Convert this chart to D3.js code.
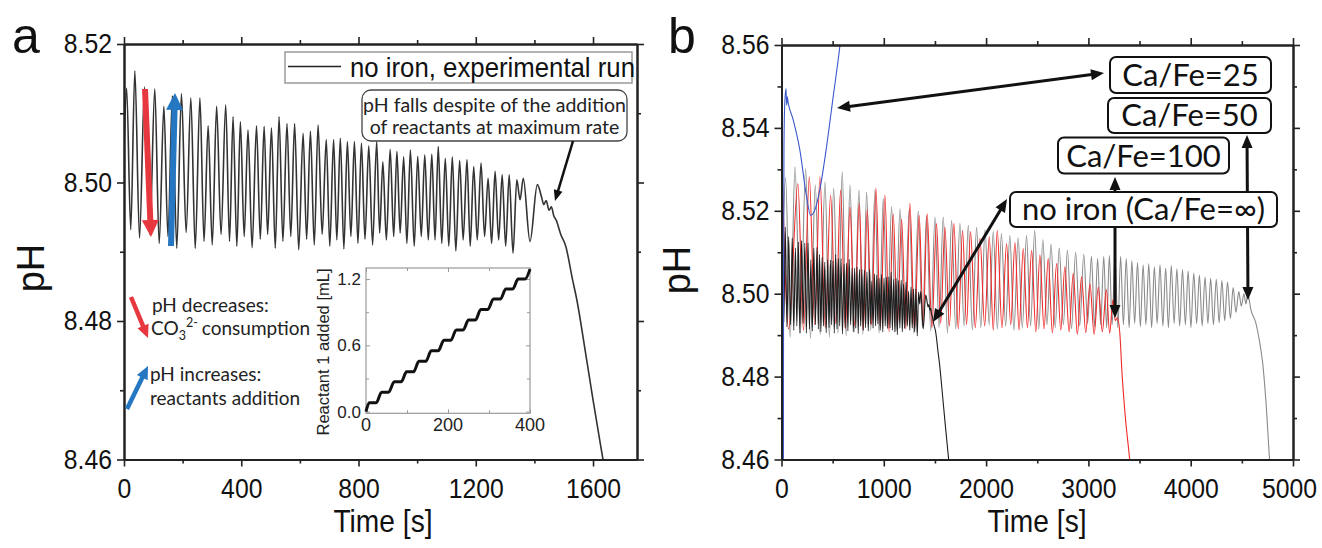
<!DOCTYPE html>
<html><head><meta charset="utf-8">
<script src="https://cdn.jsdelivr.net/npm/d3@7"></script>
<style>body{margin:0;background:#fff}svg{display:block}</style>
</head><body>
<script>
// ---------------- DATA ----------------
// Panel a / panel b black: no iron, experimental run  [time s, pH]
const noIron = [[0,8.505],[9,8.5136],[23,8.4932],[37,8.5161],[53,8.492],[70,8.5138],[88,8.4925],[105,8.5135],[120,8.4912],[136,8.511],[150,8.4922],[165,8.5125],[180,8.4905],[196,8.5128],[212,8.4928],[228,8.5122],[243,8.4905],[259,8.5122],[273,8.4915],[287,8.5082],[301,8.491],[316,8.511],[331,8.4925],[347,8.5112],[360,8.4915],[372,8.5095],[385,8.4908],[397,8.5088],[410,8.4922],[423,8.5076],[437,8.4906],[452,8.5082],[465,8.4918],[478,8.5081],[490,8.4925],[503,8.5079],[516,8.4905],[529,8.5095],[542,8.4915],[556,8.5085],[569,8.4922],[582,8.5085],[596,8.4903],[611,8.5071],[623,8.4918],[636,8.5074],[649,8.491],[662,8.5083],[676,8.4925],[690,8.5062],[702,8.4908],[715,8.5062],[726,8.4917],[738,8.5064],[750,8.4904],[762,8.5059],[774,8.4922],[786,8.5059],[798,8.4912],[810,8.5057],[822,8.4918],[835,8.5053],[848,8.491],[862,8.5059],[872,8.4927],[883,8.503],[895,8.4917],[908,8.5048],[920,8.4922],[931,8.5045],[942,8.4927],[954,8.5037],[965,8.4912],[977,8.5047],[990,8.4908],[1002,8.5038],[1014,8.4922],[1026,8.504],[1038,8.4917],[1050,8.5041],[1061,8.4917],[1072,8.5052],[1084,8.4912],[1096,8.5035],[1108,8.4908],[1120,8.5037],[1132,8.4901],[1145,8.5032],[1157,8.4917],[1170,8.5033],[1181,8.4908],[1193,8.5023],[1205,8.4917],[1218,8.5028],[1230,8.4922],[1242,8.5006],[1254,8.4912],[1266,8.5016],[1278,8.4917],[1290,8.5011],[1302,8.4908],[1314,8.5011],[1327,8.4898],[1340,8.5004],[1351,8.4975],[1362,8.5006],[1385,8.4915],[1410,8.4997],[1425,8.4978],[1432,8.4968],[1440,8.4974],[1450,8.496],[1458,8.4965],[1466,8.4952],[1475,8.4945],[1490,8.4925],[1507,8.4908],[1530,8.486],[1545,8.483],[1573,8.4758],[1600,8.4686],[1634,8.46],[1660,8.4535]];

// Panel b: Ca/Fe=100 (red)
const caFe100 = [[2,8.5342],[70,8.4915],[160,8.5265],[215,8.4912],[272,8.5282],[325,8.4925],[376,8.5282],[428,8.4918],[480,8.5238],[530,8.4928],[578,8.525],[624,8.4915],[669,8.5209],[715,8.4922],[760,8.5218],[800,8.4912],[838,8.5203],[880,8.4925],[923,8.5254],[967,8.4918],[1011,8.5238],[1052,8.4908],[1092,8.5193],[1133,8.4922],[1174,8.518],[1215,8.4915],[1255,8.5218],[1300,8.4912],[1346,8.5189],[1385,8.4925],[1424,8.5193],[1470,8.4918],[1515,8.5169],[1556,8.4928],[1597,8.5161],[1641,8.4922],[1685,8.5169],[1728,8.4915],[1770,8.5153],[1809,8.4925],[1848,8.515],[1894,8.4918],[1940,8.5133],[1986,8.4922],[2031,8.5137],[2070,8.4912],[2109,8.5153],[2155,8.4918],[2200,8.5121],[2241,8.4925],[2282,8.5124],[2322,8.4912],[2363,8.5109],[2404,8.4918],[2445,8.5105],[2486,8.4908],[2526,8.5093],[2566,8.4915],[2607,8.5085],[2648,8.4905],[2689,8.5073],[2730,8.4912],[2770,8.5065],[2811,8.4908],[2852,8.5049],[2892,8.4902],[2933,8.5041],[2974,8.4906],[3015,8.5024],[3056,8.4902],[3097,8.5016],[3136,8.4908],[3175,8.501],[3208,8.4905],[3240,8.4985],[3262,8.4935],[3285,8.4942],[3310,8.4895],[3327,8.4815],[3362,8.470],[3405,8.4595],[3420,8.455]];

// Panel b: Ca/Fe=50 (grey)
const caFe50 = [[5,8.505],[40,8.528],[85,8.4895],[132,8.5306],[184,8.4905],[236,8.5302],[283,8.4892],[330,8.5262],[378,8.4902],[425,8.527],[468,8.4895],[510,8.5255],[552,8.4905],[594,8.5294],[632,8.4898],[669,8.5262],[713,8.4908],[757,8.525],[795,8.4902],[832,8.5245],[872,8.4912],[913,8.525],[954,8.4905],[995,8.523],[1035,8.4915],[1076,8.521],[1117,8.4908],[1158,8.5205],[1203,8.4915],[1249,8.5205],[1293,8.4905],[1337,8.52],[1378,8.4918],[1418,8.5189],[1459,8.491],[1500,8.5185],[1540,8.4918],[1581,8.5185],[1622,8.4905],[1663,8.5177],[1703,8.4915],[1744,8.517],[1785,8.4922],[1826,8.5165],[1866,8.4912],[1907,8.516],[1948,8.4918],[1990,8.5155],[2030,8.4925],[2070,8.515],[2110,8.4915],[2150,8.5145],[2191,8.4922],[2232,8.514],[2272,8.4912],[2313,8.5135],[2354,8.4918],[2395,8.514],[2435,8.4922],[2475,8.5153],[2515,8.4915],[2555,8.513],[2595,8.4925],[2635,8.512],[2675,8.4918],[2715,8.511],[2755,8.4925],[2795,8.5105],[2835,8.4915],[2875,8.51],[2915,8.4922],[2955,8.5095],[2992,8.4928],[3030,8.509],[3060,8.492],[3090,8.5085],[3120,8.4925],[3150,8.509],[3178,8.4918],[3205,8.5092],[3232,8.4925],[3260,8.5094],[3288,8.4918],[3315,8.509],[3342,8.4925],[3370,8.5085],[3398,8.4918],[3425,8.508],[3452,8.4928],[3480,8.5075],[3508,8.492],[3535,8.507],[3562,8.4925],[3590,8.5072],[3618,8.4918],[3645,8.5065],[3672,8.4928],[3700,8.507],[3728,8.4922],[3755,8.5062],[3782,8.4918],[3810,8.5068],[3838,8.4928],[3865,8.506],[3892,8.4922],[3920,8.5058],[3948,8.4925],[3975,8.5055],[4002,8.4918],[4030,8.505],[4058,8.4928],[4085,8.5045],[4112,8.4922],[4140,8.504],[4168,8.4928],[4195,8.5037],[4222,8.4925],[4250,8.5035],[4278,8.493],[4305,8.5032],[4332,8.4935],[4360,8.5028],[4388,8.494],[4415,8.5015],[4442,8.4955],[4470,8.5005],[4495,8.497],[4520,8.5],[4540,8.4975],[4555,8.4995],[4567,8.4991],[4587,8.4963],[4636,8.493],[4670,8.4889],[4704,8.4832],[4735,8.4742],[4773,8.4595],[4790,8.455]];

// Panel b: Ca/Fe=25 (blue)
const caFe25 = [[18,8.44],[20,8.50],[24,8.535],[32,8.546],[44,8.5495],[50,8.5455],[56,8.5475],[66,8.546],[115,8.5419],[180,8.5346],[245,8.5234],[285,8.5189],[325,8.5201],[374,8.525],[440,8.5354],[505,8.5475],[572,8.56],[590,8.564]];

// Inset: reactant 1 added [mL] vs time [s]
const insetT = [0,8,25,38,55,69,86,99,116,129,146,159,176,190,207,220,237,250,267,280,297,311,328,341,358,371,388,400];
const insetV = [0,0.08,0.08,0.175,0.175,0.27,0.27,0.36,0.36,0.455,0.455,0.55,0.55,0.645,0.645,0.74,0.74,0.83,0.83,0.925,0.925,1.02,1.02,1.11,1.11,1.2,1.2,1.29];

// ticks
const aXMajor = [0,400,800,1200,1600], aXMinor = [200,600,1000,1400];
const aYMajor = [8.46,8.48,8.50,8.52], aYMinor = [8.47,8.49,8.51];
const bXMajor = [0,1000,2000,3000,4000,5000], bXMinor = [500,1500,2500,3500,4500];
const bYMajor = [8.46,8.48,8.50,8.52,8.54,8.56], bYMinor = [8.47,8.49,8.51,8.53,8.55];
const inXMajor = [0,200,400], inXMinor = [100,300];
const inYMajor = [0.0,0.6,1.2], inYMinor = [0.3,0.9];

const boxLabels = ["Ca/Fe=25","Ca/Fe=50","Ca/Fe=100","no iron (Ca/Fe=\u221E)"];

// ---------------- DRAW ----------------
const AX = "'Liberation Sans', Arial, Helvetica, sans-serif";
const NT = "Lato, 'Open Sans', sans-serif";
const svg = d3.select("body").append("svg").attr("width",1322).attr("height",548);
const defs = svg.append("defs");

function condense(sel,f){
  sel.each(function(){
    const w=this.getComputedTextLength();
    if(w>0){ this.setAttribute("textLength",(w*f).toFixed(1)); this.setAttribute("lengthAdjust","spacingAndGlyphs"); }
  });
}

const xa = d3.scaleLinear().domain([0,1750]).range([124,637]);
const ya = d3.scaleLinear().domain([8.46,8.52]).range([459.5,44]);
const xb = d3.scaleLinear().domain([0,5000]).range([781.5,1293]);
const yb = d3.scaleLinear().domain([8.46,8.56]).range([459.5,45]);

function clip(id,x,y){
  defs.append("clipPath").attr("id",id).append("rect")
    .attr("x",x.range()[0]).attr("y",y.range()[1])
    .attr("width",x.range()[1]-x.range()[0]).attr("height",y.range()[0]-y.range()[1]);
}
clip("ca",xa,ya); clip("cb",xb,yb);

function frame(x,y,xMaj,xMin,yMaj,yMin,yFmt){
  const g = svg.append("g");
  const [xl,xr] = x.range(), [yB,yT] = y.range();
  const mk = (ax,tr)=>g.append("g").attr("transform",tr).call(ax.tickSizeOuter(0));
  mk(d3.axisBottom(x).tickValues(xMin).tickSize(4).tickFormat(""),`translate(0,${yB})`);
  mk(d3.axisTop(x).tickValues(xMin).tickSize(4).tickFormat(""),`translate(0,${yT})`);
  mk(d3.axisLeft(y).tickValues(yMin).tickSize(4).tickFormat(""),`translate(${xl},0)`);
  mk(d3.axisRight(y).tickValues(yMin).tickSize(4).tickFormat(""),`translate(${xr},0)`);
  const bx = mk(d3.axisBottom(x).tickValues(xMaj).tickSize(7).tickPadding(12).tickFormat(d3.format("d")),`translate(0,${yB})`);
  mk(d3.axisTop(x).tickValues(xMaj).tickSize(7).tickFormat(""),`translate(0,${yT})`);
  mk(d3.axisLeft(y).tickValues(yMaj).tickSize(7).tickPadding(5).tickFormat(yFmt),`translate(${xl},0)`);
  mk(d3.axisRight(y).tickValues(yMaj).tickSize(7).tickFormat(""),`translate(${xr},0)`);
  g.selectAll(".domain").attr("stroke","#222").attr("stroke-width",2);
  g.selectAll(".tick line").attr("stroke","#222").attr("stroke-width",1.6);
  const t = g.selectAll("text").filter(function(){return this.textContent!=="";})
    .attr("font-family",AX).attr("font-size",27.5).attr("fill","#111");
  condense(t,0.9);
  return {g,bx};
}

function arrow(g,x1,y1,x2,y2,o){
  const dx=x2-x1, dy=y2-y1, L=Math.hypot(dx,dy), ux=dx/L, uy=dy/L, px=-uy, py=ux;
  const hl=o.hl, hw=o.hw;
  const sx=o.both?x1+ux*hl*0.8:x1, sy=o.both?y1+uy*hl*0.8:y1;
  g.append("line").attr("x1",sx).attr("y1",sy).attr("x2",x2-ux*hl*0.8).attr("y2",y2-uy*hl*0.8)
    .attr("stroke",o.c).attr("stroke-width",o.w);
  const head=(tx,ty,vx,vy)=>{const bx=tx-vx*hl, by=ty-vy*hl;
    return [[tx,ty],[bx+px*hw/2,by+py*hw/2],[bx-px*hw/2,by-py*hw/2]].map(p=>p.join(",")).join(" ");};
  g.append("polygon").attr("points",head(x2,y2,ux,uy)).attr("fill",o.c);
  if(o.both) g.append("polygon").attr("points",head(x1,y1,-ux,-uy)).attr("fill",o.c);
}

// ----- Panel a -----
const lineA = d3.line().x(d=>xa(d[0])).y(d=>ya(d[1])).curve(d3.curveMonotoneX);
svg.append("path").datum(noIron).attr("d",lineA).attr("clip-path","url(#ca)")
  .attr("fill","none").attr("stroke","#333").attr("stroke-width",1.6);
frame(xa,ya,aXMajor,aXMinor,aYMajor,aYMinor,d3.format(".2f"));

// legend
const lg = svg.append("g");
lg.append("rect").attr("x",285).attr("y",52).attr("width",347).attr("height",31)
  .attr("fill","#fff").attr("stroke","#9a9a9a").attr("stroke-width",1.5);
lg.append("line").attr("x1",288).attr("x2",341).attr("y1",66.5).attr("y2",66.5).attr("stroke","#222").attr("stroke-width",1.3);
condense(lg.append("text").attr("x",350).attr("y",77).attr("font-family",AX).attr("font-size",28).attr("fill","#111")
  .text("no iron, experimental run"),0.92);

// annotation box
const an = svg.append("g");
an.append("rect").attr("x",362).attr("y",90).attr("width",265).attr("height",51).attr("rx",9)
  .attr("fill","none").attr("stroke","#444").attr("stroke-width",1.3);
an.append("text").attr("x",494.5).attr("y",112).attr("text-anchor","middle").attr("font-family",NT).attr("font-size",19.5).attr("fill","#222").text("pH falls despite of the addition");
an.append("text").attr("x",494.5).attr("y",134).attr("text-anchor","middle").attr("font-family",NT).attr("font-size",19.5).attr("fill","#222").text("of reactants at maximum rate");
arrow(an,573,141,555,201,{w:2.5,hl:11,hw:9,c:"#111"});

// big arrows
arrow(svg,145,89,151,237,{w:6,hl:17,hw:17,c:"#e8383f"});
arrow(svg,171,246,175,93,{w:6,hl:17,hw:17,c:"#2577c2"});
arrow(svg,131,297,148,338,{w:4.5,hl:13,hw:12,c:"#e8383f"});
arrow(svg,127,409,148,366,{w:4.5,hl:13,hw:12,c:"#2577c2"});

const nt = svg.append("g").attr("font-family",NT).attr("font-size",19).attr("fill","#222");
nt.append("text").attr("x",152).attr("y",312).text("pH decreases:");
const co = nt.append("text").attr("x",151).attr("y",335);
co.append("tspan").text("CO");
co.append("tspan").attr("font-size",12.5).attr("dy",5).text("3");
co.append("tspan").attr("font-size",12.5).attr("dy",-13).text("2-");
co.append("tspan").attr("dy",8).text("consumption").attr("dx",4);
nt.append("text").attr("x",150).attr("y",381).text("pH increases:");
nt.append("text").attr("x",150).attr("y",405).text("reactants addition");

// inset
const xi = d3.scaleLinear().domain([0,400]).range([366,530]);
const yi = d3.scaleLinear().domain([-0.015,1.3]).range([413.3,268]);
const ig = svg.append("g");
ig.append("rect").attr("x",366).attr("y",268).attr("width",164).attr("height",145.3)
  .attr("fill","#fff").attr("stroke","#999").attr("stroke-width",1.2);
const inTicks = (ax,tr,vals,size)=>ig.append("g").attr("transform",tr).call(ax.tickValues(vals).tickSize(size).tickSizeOuter(0).tickFormat(""));
[[inXMajor,4],[inXMinor,3]].forEach(([v,s])=>{
  inTicks(d3.axisTop(xi),`translate(0,${413.3})`,v,s);
  inTicks(d3.axisBottom(xi),`translate(0,268)`,v,s);
});
[[inYMajor,4],[inYMinor,3]].forEach(([v,s])=>{
  inTicks(d3.axisRight(yi),`translate(366,0)`,v,s);
  inTicks(d3.axisLeft(yi),`translate(530,0)`,v,s);
});
ig.selectAll(".domain").remove();
ig.selectAll(".tick line").attr("stroke","#999");
ig.selectAll("text.inx").data(inXMajor).enter().append("text")
  .attr("x",d=>xi(d)).attr("y",431).attr("text-anchor","middle")
  .attr("font-family",AX).attr("font-size",18).attr("fill","#222").text(d=>d);
ig.selectAll("text.iny").data(inYMajor).enter().append("text")
  .attr("x",361).attr("y",d=>yi(d)+6).attr("text-anchor","end")
  .attr("font-family",AX).attr("font-size",17).attr("fill","#222").text(d=>d.toFixed(1));
ig.append("text").attr("transform","translate(329,352) rotate(-90)").attr("text-anchor","middle")
  .attr("font-family",AX).attr("font-size",16.5).attr("fill","#222").text("Reactant 1 added [mL]");
const lineI = d3.line().x((d,i)=>xi(insetT[i])).y(d=>yi(d)).curve(d3.curveMonotoneX);
ig.append("path").datum(insetV).attr("d",lineI).attr("fill","none").attr("stroke","#111").attr("stroke-width",3);

// titles a
svg.append("text").attr("x",12).attr("y",53).attr("font-family",AX).attr("font-size",50).attr("fill","#111").text("a");
svg.append("text").attr("transform","translate(44,268) rotate(-90)").attr("text-anchor","middle")
  .attr("font-family",AX).attr("font-size",38).attr("fill","#111").text("pH");
condense(svg.append("text").attr("x",383).attr("y",532).attr("text-anchor","middle")
  .attr("font-family",AX).attr("font-size",32).attr("fill","#111").text("Time [s]"),0.88);

// ----- Panel b -----
const lineB = d3.line().x(d=>xb(d[0])).y(d=>yb(d[1])).curve(d3.curveMonotoneX);
const pb = svg.append("g").attr("clip-path","url(#cb)");
[[caFe50,"#8a8a8a"],[caFe100,"#f02a2a"],[noIron,"#1e1e1e"],[caFe25,"#3b58cc"]].forEach(([d,c])=>{
  pb.append("path").datum(d).attr("d",lineB).attr("fill","none").attr("stroke",c).attr("stroke-width",1.1);
});
const fb = frame(xb,yb,bXMajor,bXMinor,bYMajor,bYMinor,d3.format(".2f"));
// keep the last bottom label inside the canvas
fb.bx.selectAll(".tick text").filter(d=>d===5000).attr("dx",-4);

const ab = svg.append("g");
const ao = {w:3,hl:13,hw:11,c:"#111",both:true};
arrow(ab,837,108,1104,73,ao);
arrow(ab,933,322,1007,199,ao);
arrow(ab,1115,177,1115,318,ao);
arrow(ab,1247,135,1248,300,ao);

const boxes = [[1110,57,161,36],[1108,98,163,35],[1058,137.5,171,36],[1010,192,267,35]];
boxes.forEach(([x,y,w,h],i)=>{
  ab.append("rect").attr("x",x).attr("y",y).attr("width",w).attr("height",h).attr("rx",6)
    .attr("fill","#fff").attr("stroke","#111").attr("stroke-width",2);
  ab.append("text").attr("x",x+w/2).attr("y",y+h-7).attr("text-anchor","middle")
    .attr("font-family",NT).attr("font-size",31).attr("fill","#111").text(boxLabels[i]);
});

svg.append("text").attr("x",668).attr("y",53).attr("font-family",AX).attr("font-size",50).attr("fill","#111").text("b");
svg.append("text").attr("transform","translate(690,270) rotate(-90)").attr("text-anchor","middle")
  .attr("font-family",AX).attr("font-size",38).attr("fill","#111").text("pH");
condense(svg.append("text").attr("x",1037).attr("y",532).attr("text-anchor","middle")
  .attr("font-family",AX).attr("font-size",32).attr("fill","#111").text("Time [s]"),0.88);
</script>
</body></html>
